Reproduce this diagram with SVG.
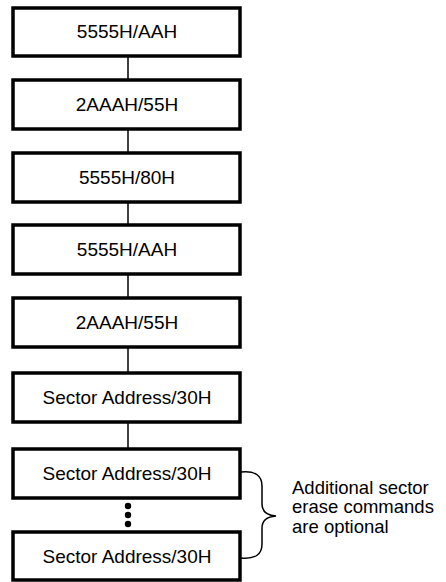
<svg xmlns="http://www.w3.org/2000/svg" width="446" height="582" viewBox="0 0 446 582">
<style>
.box{fill:#fff;stroke:#000;stroke-width:3.5}
.lbl{font-family:"Liberation Sans",Arial,sans-serif;font-size:19px;text-anchor:middle;fill:#000}
.note{font-family:"Liberation Sans",Arial,sans-serif;font-size:18.5px;fill:#000}
.conn{stroke:#000;stroke-width:1.5;fill:none}
</style>
<rect width="446" height="582" fill="#fff"/>
<g id="connectors">
<line class="conn" x1="128" y1="57" x2="128" y2="80"/>
<line class="conn" x1="128" y1="129" x2="128" y2="153"/>
<line class="conn" x1="128" y1="202" x2="128" y2="225"/>
<line class="conn" x1="128" y1="274" x2="128" y2="298"/>
<line class="conn" x1="128" y1="347" x2="128" y2="373"/>
<line class="conn" x1="128" y1="422" x2="128" y2="449"/>
<g id="dots" fill="#000">
<circle cx="128" cy="506" r="3.2"/>
<circle cx="128" cy="515" r="3.2"/>
<circle cx="128" cy="524" r="3.2"/>
</g>
<path id="brace" class="conn" stroke-width="2" d="M241 472 Q262 470 262 486 L262 504 Q262 515 276 516 Q262 517 262 528 L262 544 Q262 560 241 558"/>
</g>
<g id="n1"><rect class="box" x="13" y="8" width="227" height="48"/><text class="lbl" x="127" y="38">5555H/AAH</text></g>
<g id="n2"><rect class="box" x="13" y="80" width="227" height="49"/><text class="lbl" x="127" y="111">2AAAH/55H</text></g>
<g id="n3"><rect class="box" x="13" y="153" width="227" height="49"/><text class="lbl" x="127" y="184">5555H/80H</text></g>
<g id="n4"><rect class="box" x="13" y="225" width="227" height="49"/><text class="lbl" x="127" y="256">5555H/AAH</text></g>
<g id="n5"><rect class="box" x="13" y="298" width="227" height="49"/><text class="lbl" x="127" y="329">2AAAH/55H</text></g>
<g id="n6"><rect class="box" x="13" y="373" width="227" height="49"/><text class="lbl" x="127" y="404">Sector Address/30H</text></g>
<g id="n7"><rect class="box" x="13" y="449" width="227" height="49"/><text class="lbl" x="127" y="480">Sector Address/30H</text></g>
<g id="n8"><rect class="box" x="13" y="532" width="227" height="48"/><text class="lbl" x="127" y="563">Sector Address/30H</text></g>
<g id="note">
<text class="note" x="292" y="494">Additional sector</text>
<text class="note" x="292" y="513">erase commands</text>
<text class="note" x="292" y="533">are optional</text>
</g>
</svg>
